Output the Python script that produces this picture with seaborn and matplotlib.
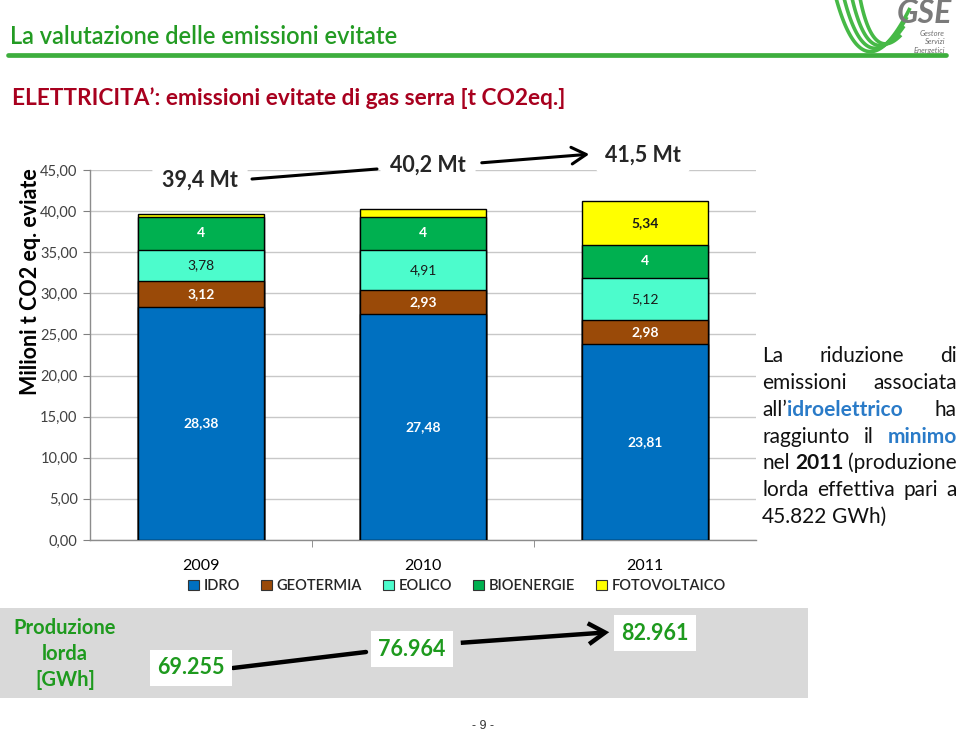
import numpy as np
import pandas as pd
import matplotlib
matplotlib.use("Agg")
import matplotlib.pyplot as plt
import seaborn as sns
from matplotlib.patches import Patch, Rectangle, FancyArrowPatch
from matplotlib.lines import Line2D

# ---------------- data ----------------
years = ["2009", "2010", "2011"]
series = ["IDRO", "GEOTERMIA", "EOLICO", "BIOENERGIE", "FOTOVOLTAICO"]
idro = [28.38, 27.48, 23.81]
geotermia = [3.12, 2.93, 2.98]
eolico = [3.78, 4.91, 5.12]
bioenergie = [4.0, 4.0, 4.0]
fotovoltaico = [0.35, 0.88, 5.34]
label_idro = ["28,38", "27,48", "23,81"]
label_geo = ["3,12", "2,93", "2,98"]
label_eol = ["3,78", "4,91", "5,12"]
label_bio = ["4", "4", "4"]
label_fv = ["", "", "5,34"]
totals_labels = ["39,4 Mt", "40,2 Mt", "41,5 Mt"]
production_labels = ["69.255", "76.964", "82.961"]
yticks = [0, 5, 10, 15, 20, 25, 30, 35, 40, 45]
ytick_labels = ["0,00", "5,00", "10,00", "15,00", "20,00", "25,00", "30,00", "35,00", "40,00", "45,00"]

colors = ["#0070C0", "#9A4A08", "#4CFCCC", "#00B050", "#FFFF00"]
label_colors = ["white", "white", "#1a1a1a", "white", "#1a1a1a"]
label_weights = ["bold", "bold", "normal", "bold", "bold"]

sns.set_style("white")
plt.rcParams["font.family"] = ["Lato", "DejaVu Sans"]

values = [idro, geotermia, eolico, bioenergie, fotovoltaico]
labels = [label_idro, label_geo, label_eol, label_bio, label_fv]
df = pd.DataFrame({"year": years})
cum = np.zeros(len(years))
cum_cols = []
for name, vals in zip(series, values):
    cum = cum + np.array(vals)
    df[name + "_cum"] = cum
    cum_cols.append(name + "_cum")

W, H = 960, 732
fig = plt.figure(figsize=(9.6, 7.32), dpi=100)
fig.patch.set_facecolor("white")

def fx(x):
    return x / W

def fy(y):
    return 1 - y / H

# chart axes
ax = fig.add_axes([fx(90), fy(540), fx(756) - fx(90), fy(170) - fy(540)])
for i in range(len(series) - 1, -1, -1):
    sns.barplot(data=df, x="year", y=cum_cols[i], color=colors[i], width=0.57,
                saturation=1, edgecolor="black", linewidth=1.0, errorbar=None,
                ax=ax, zorder=3)
bottoms = np.zeros(len(years))
for i, vals in enumerate(values):
    for j, v in enumerate(vals):
        if labels[i][j]:
            ax.text(j, bottoms[j] + v / 2, labels[i][j], ha="center", va="center",
                    color=label_colors[i], fontsize=10, fontweight=label_weights[i], zorder=5)
    bottoms = bottoms + np.array(vals)

ax.set_ylim(0, 45)
ax.set_xlim(-0.5, 2.5)
ax.set_yticks(yticks)
ax.set_yticklabels(ytick_labels, fontsize=10.5, color="#404040")
ax.set_xticks([0, 1, 2])
ax.set_xticklabels(years, fontsize=11.5, color="black")
ax.set_xticks([0.5, 1.5], minor=True)
ax.tick_params(axis="x", which="major", length=0, pad=14)
ax.tick_params(axis="x", which="minor", length=5, color="#808080", direction="out", bottom=True)
ax.tick_params(axis="y", length=5, color="#808080", direction="out", left=True, pad=4)
ax.set_xlabel("")
ax.set_ylabel("")
ax.yaxis.grid(True, color="#C8C8C8", linewidth=1.0, zorder=0)
ax.set_axisbelow(True)
for s in ["top", "right"]:
    ax.spines[s].set_visible(False)
for s in ["left", "bottom"]:
    ax.spines[s].set_color("#8C8C8C")
    ax.spines[s].set_linewidth(1.0)
ax.patch.set_alpha(0)

handles = [Patch(facecolor=c, edgecolor="#333333", linewidth=0.8, label=s) for c, s in zip(colors, series)]
leg = fig.legend(handles=handles, loc="center", bbox_to_anchor=(fx(457), fy(586)), ncol=5,
                 frameon=False, handlelength=0.75, handleheight=0.75,
                 handletextpad=0.3, columnspacing=1.45,
                 prop={"size": 10.5, "weight": "semibold"})

# overlay axes in pixel coordinates
ov = fig.add_axes([0, 0, 1, 1], zorder=10)
ov.set_xlim(0, W)
ov.set_ylim(H, 0)
ov.axis("off")
ov.patch.set_alpha(0)

# title + line
ov.text(10, 36, "La valutazione delle emissioni evitate", fontsize=17, color="#239B23",
        ha="left", va="center", fontweight="semibold")
ov.add_line(Line2D([8, 946], [55, 55], color="#3DAE3D", linewidth=3.4))
ov.text(12, 98, "ELETTRICITA\u2019: emissioni evitate di gas serra [t CO2eq.]", fontsize=16.3,
        color="#A8001E", ha="left", va="center", fontweight="bold")

# logo
t = np.linspace(0, 1, 80)
for i in range(4):
    p0 = np.array([836 + 8 * i, -2])
    p1 = np.array([864 + 3 * i, 100 - 12 * i])
    p2 = np.array([910 - 3 * i, 8 + 9 * i])
    pts = ((1 - t)[:, None] ** 2) * p0 + (2 * (1 - t) * t)[:, None] * p1 + (t[:, None] ** 2) * p2
    ov.plot(pts[:, 0], pts[:, 1], color="#46B946", linewidth=2.6, solid_capstyle="butt")
ov.text(924, 23, "GSE", fontsize=23, color="#7A7A7A", fontweight="bold", style="italic",
        ha="center", va="baseline")
for k, w in enumerate(["Gestore", "Servizi", "Energetici"]):
    ov.text(945, 33 + k * 8.5, w, fontsize=5.5, color="#707070", style="italic", ha="right", va="center")

# y label
ov.text(31, 282, "Milioni t CO2 eq. eviate", rotation=90, fontsize=15.5, fontweight="bold",
        ha="center", va="center", color="black")

# totals
box = dict(boxstyle="round,pad=0.45,rounding_size=0.5", fc="white", ec="none")
tot_pos = [(200, 180), (428, 165), (643, 155)]
for (x, y), s in zip(tot_pos, totals_labels):
    ov.text(x, y, s, fontsize=15.5, fontweight="bold", ha="center", va="center", bbox=box, zorder=5)
ov.add_line(Line2D([252, 377], [179, 169], color="black", linewidth=2.2, zorder=4))
ov.add_patch(FancyArrowPatch((479, 163), (592, 154), arrowstyle="->,head_length=7,head_width=4",
                             color="black", linewidth=2.2, mutation_scale=1.5, zorder=4))

# production band
ov.add_patch(Rectangle((0, 608), 808, 90, facecolor="#D9D9D9", edgecolor="none", zorder=1))
ov.text(65, 654, "Produzione\nlorda\n[GWh]", fontsize=14.5, fontweight="bold", color="#1E9A1E",
        ha="center", va="center", linespacing=1.35, zorder=3)
prod_pos = [(191, 668), (412, 649), (655, 633)]
pbox = dict(boxstyle="square,pad=0.35", fc="white", ec="none")
for (x, y), s in zip(prod_pos, production_labels):
    ov.text(x, y, s, fontsize=15.5, fontweight="bold", color="#1E9A1E", ha="center", va="center",
            bbox=pbox, zorder=5)
ov.add_line(Line2D([233, 366], [668, 652], color="black", linewidth=3.2, zorder=4))
ov.add_patch(FancyArrowPatch((458, 643), (612, 632), arrowstyle="->,head_length=8,head_width=5",
                             color="black", linewidth=3.2, mutation_scale=1.5, zorder=4,
                             joinstyle="miter", capstyle="butt"))

# page number
ov.text(483, 726, "- 9 -", fontsize=9, color="#333333", ha="center", va="center",
        family="Liberation Sans")

# justified right text
blue = "#2A7BC8"
lines = [
    [("La", "k", "normal"), ("riduzione", "k", "normal"), ("di", "k", "normal")],
    [("emissioni", "k", "normal"), ("associata", "k", "normal")],
    [("all\u2019", "k", "normal", "join"), ("idroelettrico", "b", "bold"), ("ha", "k", "normal")],
    [("raggiunto", "k", "normal"), ("il", "k", "normal"), ("minimo", "b", "bold")],
    [("nel", "k", "normal"), ("2011", "k", "bold"), ("(produzione", "k", "normal")],
    [("lorda", "k", "normal"), ("effettiva", "k", "normal"), ("pari", "k", "normal"), ("a", "k", "normal")],
    [("45.822", "k", "normal"), ("GWh)", "k", "normal")],
]
x0, x1 = 762, 957
ys = [356, 383, 410, 437, 463, 490, 517]
fs = 15
fig.canvas.draw()
renderer = fig.canvas.get_renderer()
inv = ov.transData.inverted()
for li, (line, y) in enumerate(zip(lines, ys)):
    arts = []
    widths = []
    for item in line:
        word, col, wt = item[0], item[1], item[2]
        a = ov.text(0, y, word, fontsize=fs, fontweight=wt, color=(blue if col == "b" else "#111111"),
                    ha="left", va="center")
        bb = a.get_window_extent(renderer)
        p0 = inv.transform((bb.x0, bb.y0))
        p1 = inv.transform((bb.x1, bb.y0))
        arts.append(a)
        widths.append(p1[0] - p0[0])
    units = []
    k = 0
    while k < len(line):
        if len(line[k]) > 3 and line[k][3] == "join":
            units.append([k, k + 1])
            k += 2
        else:
            units.append([k])
            k += 1
    unit_w = [sum(widths[m] for m in u) for u in units]
    total = sum(unit_w)
    if li == len(lines) - 1 or len(units) == 1:
        gap = 5.0
    else:
        gap = (x1 - x0 - total) / (len(units) - 1)
    x = x0
    for u, uw in zip(units, unit_w):
        xx = x
        for m in u:
            arts[m].set_x(xx)
            xx += widths[m]
        x += uw + gap

fig.savefig("out.png", dpi=100, facecolor="white")
